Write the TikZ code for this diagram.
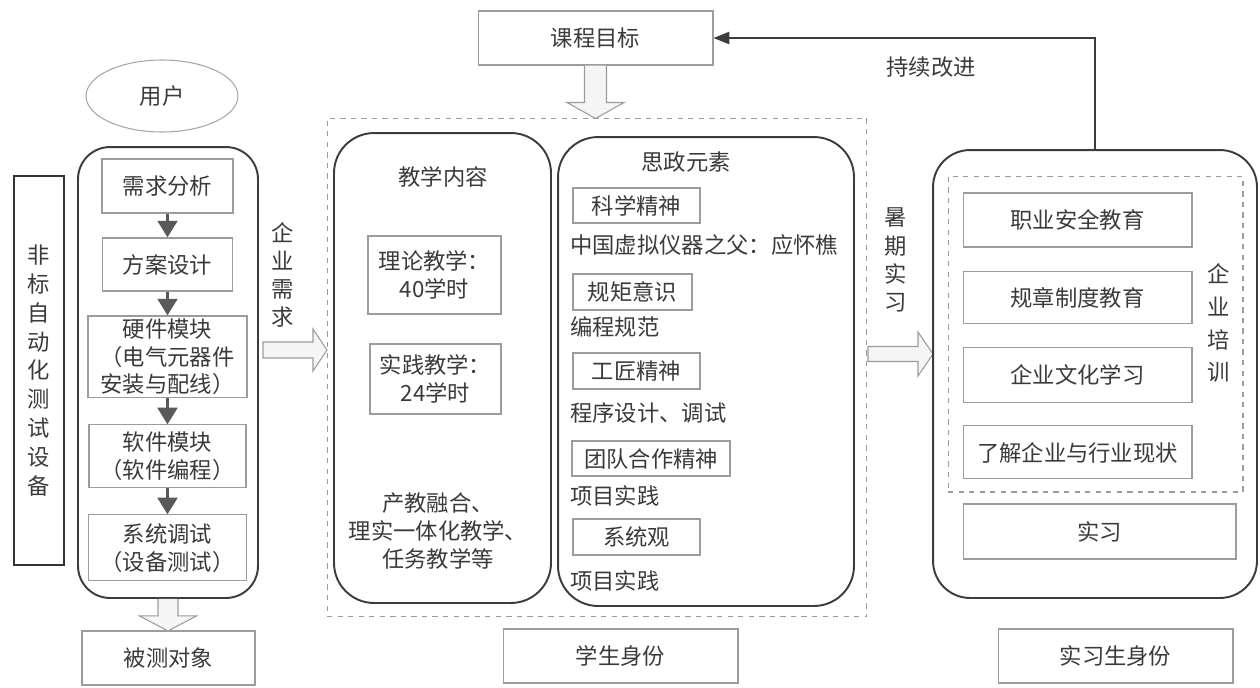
\documentclass[tikz,border=0pt]{standalone}
\usepackage{fontspec}
\setmainfont{Noto Sans CJK SC}
\usetikzlibrary{shapes.geometric, arrows.meta}
\definecolor{txtgray}{HTML}{3A3A3A}
\definecolor{boxgray}{HTML}{9C9C9C}
\definecolor{rimgray}{HTML}{3C3C3C}
\definecolor{tipgray}{HTML}{595959}
\tikzstyle{block} = [draw=boxgray, line width=0.6pt, rectangle, align=center, inner sep=0pt]
\tikzstyle{roundbox} = [draw=rimgray, line width=1.1pt, rectangle, rounded corners=0.65cm]
\tikzstyle{dashbox} = [draw=boxgray, line width=0.6pt, dashed, rectangle]
\tikzstyle{note} = [inner sep=0pt, align=center]
\tikzstyle{vtext} = [inner sep=0pt, align=center, font=\fontsize{12.7}{16}\selectfont]
\tikzstyle{hollow} = [draw=boxgray, fill=gray!8, line width=0.6pt]
\tikzstyle{flow} = [draw=tipgray, line width=2.2pt, -{Triangle[length=9.5pt, width=11pt]}]
\tikzstyle{back} = [draw=rimgray, line width=0.8pt, -{Triangle[length=9pt, width=7pt]}]

\begin{document}
\begin{tikzpicture}[x=0.02cm, y=-0.02cm, node distance=1.55cm,
    every node/.style={font=\fontsize{12.7}{15.7}\selectfont, text=txtgray}]
    \useasboundingbox (0,0) rectangle (1260,687);

    % left: test equipment
    \node [draw=gray!70, line width=0.6pt, ellipse, minimum width=3.04cm, minimum height=1.44cm] (user) at (162,96) {用户};
    \node [draw=black!80, line width=0.9pt, minimum width=1cm, minimum height=7.78cm, align=center, font=\fontsize{12.7}{16.4}\selectfont] (dev) at (39,370.5) {非\\标\\自\\动\\化\\测\\试\\设\\备};
    \node [roundbox, rounded corners=0.64cm, minimum width=3.6cm, minimum height=9.02cm] (lbox) at (168,372.5) {};
    \node [block, minimum width=2.62cm, minimum height=1.08cm] (req) at (167.5,186) {需求分析};
    \node [block, below of=req, node distance=1.57cm, minimum width=2.6cm, minimum height=1.06cm] (plan) {方案设计};
    \node [block, below of=plan, node distance=1.85cm, minimum width=3.18cm, minimum height=1.64cm] (hw) {硬件模块\\（电气元器件\\安装与配线）};
    \node [block, below of=hw, node distance=1.99cm, minimum width=3.14cm, minimum height=1.26cm] (sw) {软件模块\\（软件编程）};
    \node [block, below of=sw, node distance=1.83cm, minimum width=3.16cm, minimum height=1.32cm] (sys) {系统调试\\（设备测试）};
    \draw [flow] (req) -- (plan);
    \draw [flow] (plan) -- (hw);
    \draw [flow] (hw) -- (sw);
    \draw [flow] (sw) -- (sys);
    \node [block, minimum width=3.46cm, minimum height=1.08cm] (obj) at (168.5,658) {被测对象};
    \draw [hollow] (lbox.south) ++(-10,0) -- ++(0,17) -- ++(-18.5,0) -- ++(28.5,15) -- ++(28.5,-15) -- ++(-18.5,0) -- ++(0,-17);

    \node [vtext] (need) at (283,275) {企\\业\\需\\求};
    \coordinate (n1) at (263,350);
    \draw [hollow] (n1) ++(0,-8) -- ++(50,0) -- ++(0,-13) -- ++(14,21) -- ++(-14,21) -- ++(0,-13) -- ++(-50,0) -- cycle;

    % middle: course
    \node [block, minimum width=4.7cm, minimum height=1.08cm] (goal) at (595.5,38) {课程目标};
    \draw [hollow] (goal.south) ++(-11,0) -- ++(0,37) -- ++(-17.5,0) -- ++(28.5,16) -- ++(28.5,-16) -- ++(-17.5,0) -- ++(0,-37);
    \node [dashbox, minimum width=10.8cm, minimum height=9.98cm] (mid) at (597,367.5) {};
    \node [roundbox, rounded corners=0.8cm, minimum width=4.34cm, minimum height=9.4cm] (teach) at (442.5,368) {};
    \node [note] (teachtitle) at (443,177) {教学内容};
    \node [block, minimum width=2.66cm, minimum height=1.56cm] (theory) at (434.5,275) {理论教学：\\40学时};
    \node [block, minimum width=2.62cm, minimum height=1.4cm] (practice) at (435.5,379) {实践教学：\\24学时};
    \node [note] (method) at (438,531) {产教融合、\\理实一体化教学、\\任务教学等};

    \node [roundbox, rounded corners=0.8cm, minimum width=5.92cm, minimum height=9.38cm] (ideo) at (706,371.5) {};
    \node [note] (ideotitle) at (686,162) {思政元素};
    \node [block, minimum width=2.54cm, minimum height=0.7cm] (sci) at (636.5,205.5) {科学精神};
    \node [note, anchor=west] (sci1) at (570,245) {中国虚拟仪器之父：应怀樵};
    \node [block, minimum width=2.38cm, minimum height=0.72cm] (rule) at (632.5,292) {规矩意识};
    \node [note, anchor=west] (rule1) at (570,327) {编程规范};
    \node [block, minimum width=2.54cm, minimum height=0.72cm] (craft) at (636.5,371) {工匠精神};
    \node [note, anchor=west] (craft1) at (570,413) {程序设计、调试};
    \node [block, minimum width=3.16cm, minimum height=0.7cm] (team) at (651,458.5) {团队合作精神};
    \node [note, anchor=west] (team1) at (570,496) {项目实践};
    \node [block, minimum width=2.54cm, minimum height=0.72cm] (sysv) at (636.5,537) {系统观};
    \node [note, anchor=west] (sysv1) at (570,581) {项目实践};
    \node [block, minimum width=4.7cm, minimum height=1.08cm] (stu) at (620.5,656) {学生身份};

    % right: enterprise
    \node [vtext] (summer) at (896,260) {暑\\期\\实\\习};
    \coordinate (s1) at (868,354);
    \draw [hollow] (s1) ++(0,-7.5) -- ++(50,0) -- ++(0,-14.5) -- ++(15,22) -- ++(-15,22) -- ++(0,-14.5) -- ++(-50,0) -- cycle;
    \node [roundbox, rounded corners=0.74cm, minimum width=6.48cm, minimum height=8.96cm] (rbox) at (1095,374) {};
    \node [dashbox, minimum width=5.9cm, minimum height=6.32cm] (train) at (1095.5,334) {};
    \node [block, minimum width=4.58cm, minimum height=1.08cm] (safe) at (1077.5,220) {职业安全教育};
    \node [block, below of=safe, minimum width=4.58cm, minimum height=1.04cm] (regu) {规章制度教育};
    \node [block, below of=regu, minimum width=4.58cm, minimum height=1.1cm] (cult) {企业文化学习};
    \node [block, below of=cult, minimum width=4.58cm, minimum height=1.06cm] (know) {了解企业与行业现状};
    \node [vtext, font=\fontsize{12.7}{18.7}\selectfont] (traintitle) at (1219,323) {企\\业\\培\\训};
    \node [block, minimum width=5.46cm, minimum height=1.1cm] (intern) at (1099.5,531.5) {实习};
    \node [block, minimum width=4.7cm, minimum height=1.08cm] (istu) at (1115.5,656) {实习生身份};

    \draw [back] (rbox.north) |- (goal.east);
    \node [note] (improve) at (931,67) {持续改进};
\end{tikzpicture}
\end{document}
